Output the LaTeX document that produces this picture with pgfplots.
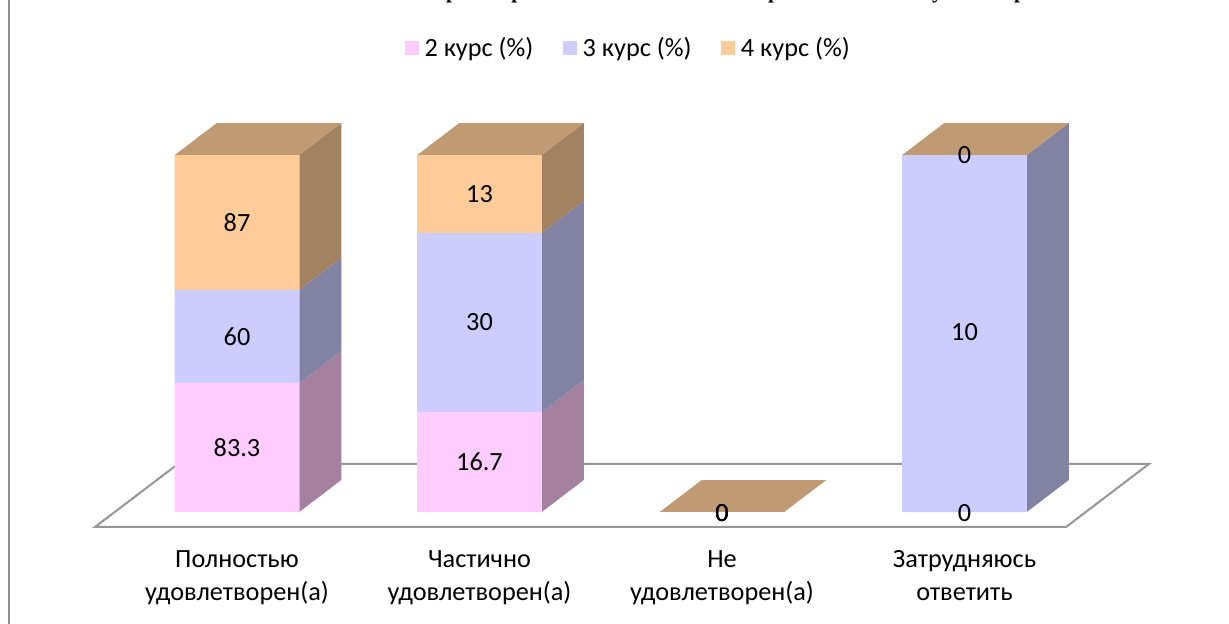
\documentclass[border=0pt]{standalone}
\usepackage{pgfplots}
\usepackage{pgfplotstable}
\pgfplotsset{compat=1.18}
\usepackage{fontspec}
\setmainfont{Carlito}
\newfontfamily\titlefont{Liberation Serif}
\definecolor{pinkF}{HTML}{FFCCFF}
\definecolor{blueF}{HTML}{CCCCFF}
\definecolor{orangeF}{HTML}{FFCC99}
\definecolor{pinkS}{HTML}{A3819F}
\definecolor{blueS}{HTML}{8282A3}
\definecolor{orangeS}{HTML}{A38262}
\definecolor{topC}{HTML}{C09A72}
\definecolor{floorC}{HTML}{969696}
% x: category position; pct: share of the 100% column
\pgfplotstableread{
x pct
0 36.17
1 27.97
2 0
3 0
}\seriesII
\pgfplotstableread{
x pct
0 26.05
1 50.25
2 0
3 100
}\seriesIII
\pgfplotstableread{
x pct
0 37.78
1 21.78
2 0
3 0
}\seriesIV
% value labels: x, middle of the segment, value shown on the chart
\pgfplotstableread{
x mid lab
0 18.09 83.3
0 49.20 60
0 81.11 87
1 13.98 16.7
1 53.10 30
1 89.11 13
2 -0.3 0
2 -0.3 0
2 -0.3 0
3 -0.3 0
3 50.3 10
3 100 0
}\labels
\pgfplotsset{
  base/.style={
    at={(0pt,72.75pt)}, anchor=south west,
    scale only axis, width=921.75pt, height=395.25pt,
    xmin=-0.97732, xmax=4.09072, ymin=-4.2, ymax=143.42,
    axis line style={draw=none}, tick style={draw=none},
    ytick=\empty, clip=false,
  },
}
\begin{document}
\begin{tikzpicture}
\path[use as bounding box] (0,0) rectangle (921.75pt,468pt);
\fill[white] (0,0) rectangle (921.75pt,468pt);
\draw[color=floorC!95!black, line width=1.5pt] (6.6pt,0) -- (6.6pt,468pt);
% the title is cut by the top edge of the picture: only the descenders show
\begin{scope}[every node/.style={anchor=base, inner sep=0pt, font=\titlefont\bfseries\fontsize{16}{18}\selectfont}]
\node at (339pt,468.9pt) {р};
\node at (388pt,468.9pt) {р};
\node at (580.5pt,468.9pt) {р};
\node at (703pt,468.9pt) {у};
\node at (765pt,468.9pt) {р};
\end{scope}
\begin{axis}[base, xtick=\empty]
% floor
\addplot[draw=floorC, line width=1.5pt, fill=white] coordinates {(-0.5856,-4.2)(3.4186,-4.2)(3.7608,13.45)(-0.2433,13.45)} -- cycle;
% group 1
\addplot[fill=pinkS, draw=none] coordinates {(0.2567,0)(0.4299,8.96)(0.4299,45.13)(0.2567,36.17)} -- cycle;
\addplot[fill=blueS, draw=none] coordinates {(0.2567,36.17)(0.4299,45.13)(0.4299,71.18)(0.2567,62.22)} -- cycle;
\addplot[fill=orangeS, draw=none] coordinates {(0.2567,62.22)(0.4299,71.18)(0.4299,108.96)(0.2567,100)} -- cycle;
\addplot[fill=topC, draw=none] coordinates {(-0.2567,100)(0.2567,100)(0.4299,108.96)(-0.0835,108.96)} -- cycle;
% group 2
\addplot[fill=pinkS, draw=none] coordinates {(1.2567,0)(1.4299,8.96)(1.4299,36.93)(1.2567,27.97)} -- cycle;
\addplot[fill=blueS, draw=none] coordinates {(1.2567,27.97)(1.4299,36.93)(1.4299,87.18)(1.2567,78.22)} -- cycle;
\addplot[fill=orangeS, draw=none] coordinates {(1.2567,78.22)(1.4299,87.18)(1.4299,108.96)(1.2567,100)} -- cycle;
\addplot[fill=topC, draw=none] coordinates {(0.7433,100)(1.2567,100)(1.4299,108.96)(0.9165,108.96)} -- cycle;
% group 3
\addplot[fill=topC, draw=none] coordinates {(1.7433,0)(2.2567,0)(2.4299,8.96)(1.9165,8.96)} -- cycle;
% group 4
\addplot[fill=blueS, draw=none] coordinates {(3.2567,0)(3.4299,8.96)(3.4299,108.96)(3.2567,100)} -- cycle;
\addplot[fill=topC, draw=none] coordinates {(2.7433,100)(3.2567,100)(3.4299,108.96)(2.9165,108.96)} -- cycle;
\end{axis}
\begin{axis}[base,
  ybar stacked, bar width=93.4pt,
  xtick={0,1,2,3},
  xticklabels={{Полностью\\удовлетворен(а)},{Частично\\удовлетворен(а)},{Не\\удовлетворен(а)},{Затрудняюсь\\ответить}},
  xticklabel style={align=center, font=\fontsize{19.7}{24.75}\selectfont, yshift=-14pt},
  legend style={at={(0.5114,0.909)}, anchor=center, draw=none, fill=none, legend columns=3,
     font=\fontsize{19.7}{22}\selectfont,
     /tikz/every even column/.append style={column sep=20pt}},
  legend image code/.code={\fill[#1] (0pt,-5.2pt) rectangle (10.5pt,5.3pt); \path (13pt,0pt);},
]
\addplot[fill=pinkF, draw=none] table[x=x, y=pct] {\seriesII};
\addplot[fill=blueF, draw=none] table[x=x, y=pct] {\seriesIII};
\addplot[fill=orangeF, draw=none] table[x=x, y=pct] {\seriesIV};
\legend{2 курс (\%),3 курс (\%),4 курс (\%)}
\end{axis}
\begin{axis}[base, xtick=\empty,
  point meta=explicit symbolic,
  nodes near coords,
  every node near coord/.style={anchor=center, text=black, font=\fontsize{19.7}{22}\selectfont},
]
\addplot[only marks, mark=none] table[x=x, y=mid, meta=lab] {\labels};
\end{axis}
\end{tikzpicture}
\end{document}
